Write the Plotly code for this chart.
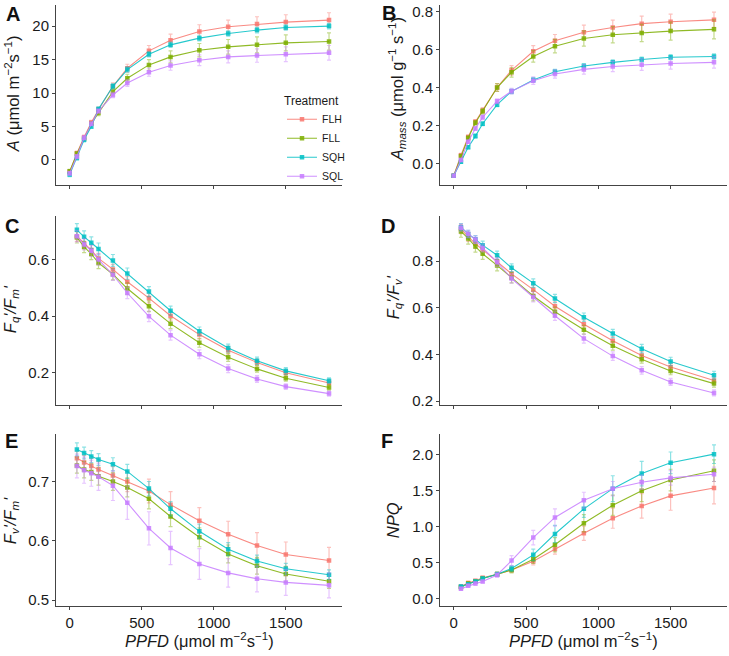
import plotly.graph_objects as go

# ---------------- data ----------------
treatments = ["FLH", "FLL", "SQH", "SQL"]
colors = {"FLH": "#F8766D", "FLL": "#7CAE00", "SQH": "#00BFC4", "SQL": "#C77CFF"}

ppfd_ab = [0, 50, 100, 150, 200, 300, 400, 550, 700, 900, 1100, 1300, 1500, 1800]
ppfd = [50, 100, 150, 200, 300, 400, 550, 700, 900, 1100, 1300, 1500, 1800]

A_mean = {
    "FLH": [-1.8, 1.0, 3.4, 5.6, 7.5, 11.0, 13.7, 16.3, 17.9, 19.2, 19.9, 20.3, 20.6, 20.9],
    "FLL": [-1.7, 0.9, 3.2, 5.4, 7.0, 10.2, 12.2, 14.2, 15.4, 16.4, 16.9, 17.2, 17.5, 17.7],
    "SQH": [-2.2, 0.3, 3.0, 5.0, 7.6, 11.0, 13.5, 15.8, 17.2, 18.2, 18.9, 19.4, 19.8, 20.0],
    "SQL": [-2.0, 0.5, 3.3, 5.4, 7.3, 9.7, 11.5, 13.1, 14.1, 14.9, 15.4, 15.6, 15.8, 16.0],
}
A_se = {
    "FLH": [0.3, 0.3, 0.3, 0.3, 0.4, 0.5, 0.6, 0.8, 0.9, 1.0, 1.0, 1.1, 1.1, 1.1],
    "FLL": [0.3, 0.3, 0.3, 0.3, 0.4, 0.5, 0.6, 0.8, 0.9, 1.0, 1.1, 1.2, 1.2, 1.3],
    "SQH": [0.3, 0.3, 0.3, 0.3, 0.3, 0.4, 0.4, 0.4, 0.4, 0.4, 0.4, 0.4, 0.4, 0.4],
    "SQL": [0.3, 0.3, 0.3, 0.3, 0.3, 0.4, 0.5, 0.6, 0.7, 0.8, 0.9, 1.0, 1.1, 1.1],
}

Amass_mean = {
    "FLH": [-0.063, 0.045, 0.14, 0.22, 0.28, 0.40, 0.49, 0.59, 0.645, 0.69, 0.715, 0.735, 0.745, 0.755],
    "FLL": [-0.063, 0.04, 0.135, 0.215, 0.275, 0.40, 0.48, 0.563, 0.617, 0.657, 0.677, 0.686, 0.696, 0.705],
    "SQH": [-0.063, 0.01, 0.087, 0.145, 0.21, 0.31, 0.38, 0.44, 0.483, 0.513, 0.532, 0.547, 0.559, 0.563],
    "SQL": [-0.063, 0.02, 0.116, 0.185, 0.244, 0.328, 0.381, 0.436, 0.471, 0.495, 0.51, 0.52, 0.526, 0.532],
}
Amass_se = {
    "FLH": [0.005, 0.01, 0.01, 0.012, 0.015, 0.02, 0.025, 0.03, 0.033, 0.037, 0.038, 0.04, 0.04, 0.04],
    "FLL": [0.005, 0.01, 0.01, 0.012, 0.015, 0.02, 0.025, 0.03, 0.035, 0.04, 0.043, 0.045, 0.047, 0.05],
    "SQH": [0.005, 0.008, 0.008, 0.01, 0.01, 0.01, 0.012, 0.012, 0.012, 0.013, 0.013, 0.013, 0.013, 0.013],
    "SQL": [0.005, 0.008, 0.008, 0.01, 0.012, 0.012, 0.015, 0.02, 0.022, 0.025, 0.027, 0.03, 0.03, 0.03],
}

FqFm_mean = {
    "FLH": [0.684, 0.658, 0.635, 0.605, 0.566, 0.522, 0.464, 0.401, 0.334, 0.278, 0.235, 0.198, 0.162],
    "FLL": [0.680, 0.646, 0.621, 0.589, 0.549, 0.498, 0.435, 0.373, 0.305, 0.253, 0.212, 0.179, 0.146],
    "SQH": [0.707, 0.682, 0.661, 0.639, 0.598, 0.551, 0.487, 0.419, 0.346, 0.286, 0.241, 0.205, 0.170],
    "SQL": [0.684, 0.655, 0.632, 0.601, 0.547, 0.482, 0.399, 0.332, 0.264, 0.213, 0.176, 0.149, 0.124],
}
FqFm_se = {
    "FLH": [0.018, 0.018, 0.018, 0.018, 0.018, 0.018, 0.017, 0.016, 0.015, 0.014, 0.012, 0.011, 0.010],
    "FLL": [0.020, 0.020, 0.020, 0.020, 0.020, 0.020, 0.019, 0.018, 0.016, 0.014, 0.012, 0.011, 0.010],
    "SQH": [0.022, 0.021, 0.021, 0.021, 0.021, 0.020, 0.018, 0.016, 0.015, 0.014, 0.013, 0.012, 0.010],
    "SQL": [0.020, 0.020, 0.020, 0.020, 0.020, 0.020, 0.019, 0.018, 0.016, 0.014, 0.012, 0.010, 0.009],
}

FqFv_mean = {
    "FLH": [0.938, 0.905, 0.875, 0.850, 0.800, 0.746, 0.678, 0.607, 0.530, 0.459, 0.396, 0.346, 0.288],
    "FLL": [0.928, 0.898, 0.863, 0.832, 0.782, 0.729, 0.651, 0.583, 0.506, 0.437, 0.380, 0.329, 0.275],
    "SQH": [0.946, 0.917, 0.894, 0.869, 0.826, 0.772, 0.706, 0.640, 0.560, 0.490, 0.425, 0.370, 0.311],
    "SQL": [0.944, 0.917, 0.893, 0.857, 0.796, 0.726, 0.647, 0.566, 0.468, 0.393, 0.332, 0.282, 0.235],
}
FqFv_se = {
    "FLH": [0.020, 0.020, 0.020, 0.020, 0.020, 0.020, 0.020, 0.019, 0.019, 0.018, 0.017, 0.016, 0.015],
    "FLL": [0.025, 0.025, 0.024, 0.024, 0.023, 0.022, 0.021, 0.020, 0.019, 0.018, 0.017, 0.016, 0.015],
    "SQH": [0.015, 0.016, 0.016, 0.017, 0.017, 0.017, 0.018, 0.018, 0.018, 0.018, 0.018, 0.018, 0.017],
    "SQL": [0.015, 0.016, 0.016, 0.017, 0.018, 0.020, 0.022, 0.020, 0.019, 0.018, 0.016, 0.015, 0.013],
}

FvFm_mean = {
    "FLH": [0.739, 0.732, 0.726, 0.720, 0.710, 0.700, 0.684, 0.661, 0.634, 0.611, 0.592, 0.577, 0.567],
    "FLL": [0.727, 0.720, 0.716, 0.709, 0.700, 0.690, 0.671, 0.641, 0.606, 0.578, 0.558, 0.544, 0.532],
    "SQH": [0.754, 0.748, 0.742, 0.737, 0.729, 0.717, 0.688, 0.654, 0.616, 0.586, 0.566, 0.553, 0.543],
    "SQL": [0.726, 0.719, 0.714, 0.708, 0.693, 0.664, 0.621, 0.588, 0.561, 0.546, 0.536, 0.530, 0.525],
}
FvFm_se = {
    "FLH": [0.012, 0.012, 0.013, 0.014, 0.015, 0.017, 0.020, 0.022, 0.022, 0.022, 0.022, 0.021, 0.022],
    "FLL": [0.013, 0.014, 0.014, 0.015, 0.015, 0.016, 0.017, 0.017, 0.016, 0.015, 0.014, 0.013, 0.012],
    "SQH": [0.011, 0.010, 0.010, 0.010, 0.011, 0.012, 0.012, 0.012, 0.012, 0.011, 0.010, 0.009, 0.008],
    "SQL": [0.020, 0.022, 0.022, 0.023, 0.025, 0.028, 0.028, 0.028, 0.026, 0.024, 0.022, 0.022, 0.021],
}

NPQ_mean = {
    "FLH": [0.17, 0.22, 0.25, 0.29, 0.34, 0.40, 0.52, 0.69, 0.91, 1.12, 1.29, 1.43, 1.54],
    "FLL": [0.16, 0.21, 0.24, 0.28, 0.34, 0.40, 0.55, 0.75, 1.05, 1.30, 1.50, 1.65, 1.78],
    "SQH": [0.17, 0.20, 0.24, 0.28, 0.34, 0.42, 0.61, 0.90, 1.25, 1.53, 1.74, 1.89, 2.01],
    "SQL": [0.14, 0.18, 0.21, 0.24, 0.33, 0.53, 0.85, 1.13, 1.37, 1.53, 1.62, 1.68, 1.73],
}
NPQ_se = {
    "FLH": [0.02, 0.02, 0.02, 0.02, 0.03, 0.03, 0.05, 0.07, 0.10, 0.14, 0.17, 0.20, 0.22],
    "FLL": [0.02, 0.02, 0.02, 0.02, 0.03, 0.04, 0.06, 0.10, 0.12, 0.14, 0.15, 0.15, 0.15],
    "SQH": [0.02, 0.02, 0.02, 0.02, 0.03, 0.04, 0.08, 0.12, 0.12, 0.18, 0.17, 0.15, 0.13],
    "SQL": [0.02, 0.02, 0.02, 0.02, 0.03, 0.07, 0.10, 0.12, 0.11, 0.10, 0.10, 0.10, 0.10],
}

x_ticks = [0, 500, 1000, 1500]

# ---------------- layout helpers ----------------
W, H = 729, 656
FONT = "Arial, Liberation Sans, sans-serif"
col_px = [(56, 342), (440, 727)]
row_px = [(3, 185), (216, 407), (436, 610)]


def rgba(hexc, a):
    h = hexc.lstrip("#")
    r, g, b = int(h[0:2], 16), int(h[2:4], 16), int(h[4:6], 16)
    return f"rgba({r},{g},{b},{a})"


panels = [
    dict(x=ppfd_ab, m=A_mean, e=A_se, row=0, col=0, yr=[-3.8, 23.16], tv=[0, 5, 10, 15, 20], fmt="d",
         title="<i>A</i> (μmol m<sup>−2</sup>s<sup>−1</sup>)", tpos=(12, 93), letter="A", lpos=(4, 12)),
    dict(x=ppfd_ab, m=Amass_mean, e=Amass_se, row=0, col=1, yr=[-0.113, 0.833], tv=[0, 0.2, 0.4, 0.6, 0.8], fmt=".1f",
         title="<i>A</i><sub><i>mass</i></sub> (μmol g<sup>−1</sup> s<sup>−1</sup>)", tpos=(397, 88), letter="B", lpos=(380, 11)),
    dict(x=ppfd, m=FqFm_mean, e=FqFm_se, row=1, col=0, yr=[0.0825, 0.756], tv=[0.2, 0.4, 0.6], fmt=".1f",
         title="<i>F</i><sub><i>q</i></sub><i>'/F</i><sub><i>m</i></sub><i>'</i>", tpos=(11, 310), letter="C", lpos=(3, 226)),
    dict(x=ppfd, m=FqFv_mean, e=FqFv_se, row=1, col=1, yr=[0.182, 0.994], tv=[0.2, 0.4, 0.6, 0.8], fmt=".1f",
         title="<i>F</i><sub><i>q</i></sub><i>'/F</i><sub><i>v</i></sub><i>'</i>", tpos=(394, 298), letter="D", lpos=(379, 226)),
    dict(x=ppfd, m=FvFm_mean, e=FvFm_se, row=2, col=0, yr=[0.4895, 0.78], tv=[0.5, 0.6, 0.7], fmt=".1f",
         title="<i>F</i><sub><i>v</i></sub><i>'/F</i><sub><i>m</i></sub><i>'</i>", tpos=(11, 524), letter="E", lpos=(3, 443)),
    dict(x=ppfd, m=NPQ_mean, e=NPQ_se, row=2, col=1, yr=[-0.107, 2.29], tv=[0, 0.5, 1.0, 1.5, 2.0], fmt=".1f",
         title="<i>NPQ</i>", tpos=(393, 523), letter="F", lpos=(379, 443)),
]

fig = go.Figure()
layout = dict(
    width=W, height=H,
    margin=dict(l=0, r=0, t=0, b=0),
    paper_bgcolor="white", plot_bgcolor="white",
    font=dict(family=FONT, color="#1a1a1a"),
    showlegend=True,
    legend=dict(
        title=dict(text="Treatment", font=dict(size=12, family=FONT, color="#1a1a1a")),
        font=dict(size=10.5, family=FONT, color="#1a1a1a"),
        x=282 / W, y=1 - 88 / H, xanchor="left", yanchor="top",
        bgcolor="rgba(0,0,0,0)", itemwidth=30, tracegroupgap=0,
    ),
)
annotations = []

axis_common = dict(showgrid=False, zeroline=False, showline=True, linecolor="#444", linewidth=1,
                   ticks="outside", ticklen=3, tickwidth=1, tickcolor="#444",
                   tickfont=dict(size=15, family=FONT, color="#1a1a1a"))

for i, p in enumerate(panels, start=1):
    xa = "x" if i == 1 else f"x{i}"
    ya = "y" if i == 1 else f"y{i}"
    c0, c1 = col_px[p["col"]]
    r0, r1 = row_px[p["row"]]
    layout[f"xaxis{'' if i == 1 else i}"] = dict(
        axis_common, domain=[c0 / W, c1 / W], range=[-95, 1890], anchor=ya,
        tickvals=x_ticks, showticklabels=(p["row"] == 2),
    )
    layout[f"yaxis{'' if i == 1 else i}"] = dict(
        axis_common, domain=[1 - r1 / H, 1 - r0 / H], range=p["yr"], anchor=xa,
        tickvals=p["tv"], tickformat=p["fmt"],
    )
    for t in treatments:
        col = colors[t]
        fig.add_trace(go.Scatter(
            x=p["x"], y=p["m"][t], xaxis=xa, yaxis=ya, name=t, legendgroup=t,
            showlegend=(i == 1), mode="lines+markers",
            line=dict(color=rgba(col, 0.85), width=1.1),
            marker=dict(symbol="square", size=4.5, color=rgba(col, 0.85)),
            error_y=dict(type="data", array=p["e"][t], visible=True,
                         color=rgba(col, 0.45), thickness=1.2, width=2),
        ))
    tx, ty = p["tpos"]
    annotations.append(dict(text=p["title"], x=tx / W, y=1 - ty / H, xref="paper", yref="paper",
                            textangle=-90, showarrow=False, xanchor="center", yanchor="middle",
                            font=dict(size=16.5, family=FONT, color="#1a1a1a")))
    lx, ly = p["lpos"]
    annotations.append(dict(text=f"<b>{p['letter']}</b>", x=lx / W, y=1 - ly / H, xref="paper", yref="paper",
                            showarrow=False, xanchor="left", yanchor="middle",
                            font=dict(size=20, family=FONT, color="#111")))
    if p["row"] == 2:
        annotations.append(dict(text="<i>PPFD</i> (μmol m<sup>−2</sup>s<sup>−1</sup>)",
                                x=((c0 + c1) / 2) / W, y=1 - 644 / H, xref="paper", yref="paper",
                                showarrow=False, xanchor="center", yanchor="middle",
                                font=dict(size=16.5, family=FONT, color="#1a1a1a")))

layout["annotations"] = annotations
fig.update_layout(**layout)
fig.write_html("out.html",
               config={"displayModeBar": False},
               post_script="document.body.style.margin='0';document.body.style.padding='0';")
